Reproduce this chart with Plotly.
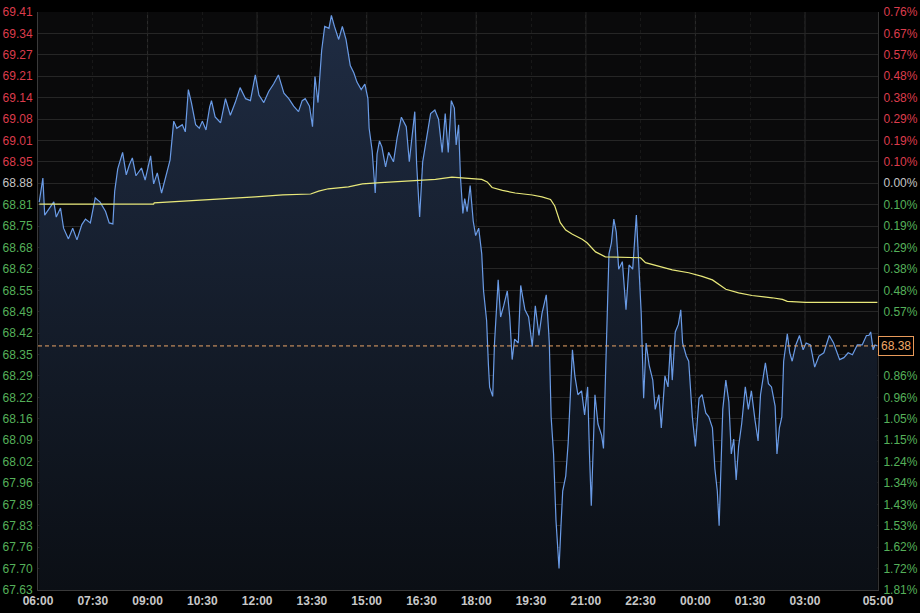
import pandas as pd
import plotly.graph_objects as go

# ---------------- data ----------------
session_start = "2024-06-03 06:00"
session_end = "2024-06-04 05:00"
prev_close = 68.88
grid_step = 0.0658

# minutes after 06:00 and price
price_minutes = [2, 8, 11, 17, 26, 30, 37, 42, 50, 57, 64, 72, 78, 86, 94, 102, 111, 117, 123, 126,
                 131, 139, 145, 150, 155, 161, 170, 176, 185, 190, 196, 203, 210, 217, 223, 228, 237, 242, 247, 252,
                 259, 265, 270, 276, 282, 285, 291, 300, 308, 316, 324, 332, 341, 349, 357, 363, 371, 379, 387, 395,
                 404, 412, 420, 428, 434, 439, 446, 451, 455, 460, 466, 471, 478, 482, 487, 494, 500, 506, 513, 519,
                 524, 531, 537, 542, 544, 549, 554, 557, 561, 565, 571, 576, 584, 590, 597, 605, 610, 615, 619, 622,
                 627, 632, 638, 645, 652, 658, 664, 669, 674, 679, 684, 687, 691, 694, 698, 701, 705, 710, 715, 719,
                 724, 729, 732, 737, 740, 742, 747, 750, 756, 760, 765, 771, 775, 779, 783, 789, 793, 800, 806, 812,
                 817, 823, 828, 835, 839, 840, 843, 847, 851, 856, 859, 862, 867, 871, 878, 882, 887, 893, 898, 903,
                 906, 909, 915, 920, 926, 929, 933, 938, 942, 946, 950, 954, 960, 966, 971, 977, 983, 987, 991, 995,
                 999, 1004, 1010, 1014, 1020, 1024, 1030, 1035, 1039, 1042, 1047, 1052, 1056, 1059, 1065, 1069, 1075, 1080, 1086, 1091,
                 1097, 1102, 1108, 1112, 1116, 1119, 1121, 1125, 1130, 1135, 1139, 1143, 1147, 1151, 1156, 1162, 1167, 1172, 1178, 1183,
                 1187, 1191, 1195, 1200, 1205, 1211, 1214, 1218, 1222, 1225, 1228, 1231, 1235, 1239, 1245, 1251, 1257, 1262, 1269, 1276,
                 1283, 1291, 1300, 1307, 1317, 1324, 1331, 1338, 1346, 1354, 1361, 1365, 1368, 1372, 1375, 1379]
price_values = [68.822, 68.896, 68.782, 68.798, 68.823, 68.776, 68.804, 68.742, 68.709, 68.742, 68.706, 68.753, 68.770, 68.758, 68.835, 68.822, 68.793, 68.758, 68.755, 68.856,
                68.924, 68.975, 68.906, 68.936, 68.958, 68.903, 68.927, 68.890, 68.964, 68.878, 68.912, 68.850, 68.901, 68.952, 69.071, 69.049, 69.060, 69.038, 69.168, 69.128,
                69.060, 69.049, 69.071, 69.044, 69.114, 69.134, 69.084, 69.066, 69.140, 69.089, 69.128, 69.174, 69.140, 69.134, 69.213, 69.151, 69.128, 69.162, 69.185, 69.213,
                69.157, 69.140, 69.117, 69.100, 69.134, 69.140, 69.117, 69.054, 69.208, 69.128, 69.288, 69.362, 69.356, 69.396, 69.362, 69.322, 69.362, 69.322, 69.242, 69.219,
                69.191, 69.168, 69.185, 69.140, 69.049, 68.980, 68.850, 68.970, 69.010, 68.992, 68.930, 68.975, 68.946, 69.020, 69.083, 69.054, 68.946, 69.044, 69.100, 68.941,
                68.776, 68.946, 69.020, 69.094, 69.105, 69.077, 68.975, 69.094, 68.975, 69.134, 69.111, 68.998, 69.060, 68.901, 68.787, 68.833, 68.793, 68.873, 68.764, 68.719,
                68.742, 68.663, 68.549, 68.458, 68.321, 68.253, 68.225, 68.389, 68.583, 68.469, 68.503, 68.549, 68.469, 68.338, 68.401, 68.389, 68.566, 68.491, 68.469, 68.378,
                68.503, 68.412, 68.480, 68.537, 68.423, 68.389, 68.162, 68.048, 67.843, 67.696, 67.820, 67.934, 67.980, 68.082, 68.368, 68.288, 68.230, 68.242, 68.168, 68.254,
                68.048, 67.889, 68.230, 68.140, 68.105, 68.065, 68.333, 68.663, 68.697, 68.770, 68.730, 68.616, 68.639, 68.491, 68.629, 68.616, 68.782, 68.651, 68.480, 68.219,
                68.389, 68.321, 68.275, 68.185, 68.230, 68.128, 68.288, 68.254, 68.383, 68.275, 68.423, 68.446, 68.491, 68.389, 68.349, 68.333, 68.162, 68.071, 68.219, 68.230,
                68.174, 68.162, 68.128, 68.003, 67.934, 67.827, 67.946, 68.185, 68.275, 68.208, 68.048, 68.094, 67.968, 68.071, 68.140, 68.254, 68.185, 68.242, 68.151, 68.088,
                68.230, 68.288, 68.328, 68.264, 68.254, 68.195, 68.048, 68.128, 68.162, 68.333, 68.378, 68.417, 68.359, 68.333, 68.383, 68.412, 68.368, 68.389, 68.383, 68.315,
                68.349, 68.359, 68.412, 68.389, 68.338, 68.344, 68.359, 68.353, 68.383, 68.383, 68.412, 68.412, 68.423, 68.368, 68.383, 68.380]

avg_minutes = [2, 190, 191, 230, 245, 261, 283, 308, 357, 402, 448, 461, 477, 510, 533, 563, 609, 653, 680, 713,
               729, 738, 746, 763, 784, 812, 828, 842, 849, 858, 867, 878, 894, 902, 916, 932, 970, 990, 998, 1020,
               1042, 1069, 1091, 1108, 1121, 1130, 1151, 1173, 1206, 1223, 1231, 1261, 1379]
avg_values = [68.816, 68.816, 68.820, 68.824, 68.826, 68.829, 68.829, 68.833, 68.838, 68.844, 68.847, 68.856, 68.863, 68.869, 68.878, 68.882, 68.887, 68.892, 68.899, 68.895,
              68.892, 68.884, 68.867, 68.858, 68.850, 68.844, 68.838, 68.830, 68.810, 68.759, 68.736, 68.723, 68.708, 68.697, 68.669, 68.654, 68.651, 68.651, 68.636, 68.626,
              68.614, 68.605, 68.594, 68.583, 68.565, 68.554, 68.543, 68.535, 68.528, 68.523, 68.517, 68.514, 68.514]

left_labels = ["69.41", "69.34", "69.27", "69.21", "69.14", "69.08", "69.01", "68.95", "68.88",
               "68.81", "68.75", "68.68", "68.62", "68.55", "68.49", "68.42", "68.35", "68.29", "68.22",
               "68.16", "68.09", "68.02", "67.96", "67.89", "67.83", "67.76", "67.70", "67.63"]
right_labels = ["0.76%", "0.67%", "0.57%", "0.48%", "0.38%", "0.29%", "0.19%", "0.10%", "0.00%",
                "0.10%", "0.19%", "0.29%", "0.38%", "0.48%", "0.57%", "0.67%", "0.76%", "0.86%", "0.96%",
                "1.05%", "1.15%", "1.24%", "1.34%", "1.43%", "1.53%", "1.62%", "1.72%", "1.81%"]
x_tick_labels = ["06:00", "07:30", "09:00", "10:30", "12:00", "13:30", "15:00", "16:30", "18:00",
                 "19:30", "21:00", "22:30", "00:00", "01:30", "03:00", "05:00"]

# ---------------- build ----------------
t0 = pd.Timestamp(session_start)
t_end = pd.Timestamp(session_end)
px = [t0 + pd.Timedelta(minutes=m) for m in price_minutes]
ax = [t0 + pd.Timedelta(minutes=m) for m in avg_minutes]

n_up = 8
n_dn = len(left_labels) - 1 - n_up
tickvals = [prev_close + (n_up - i) * grid_step for i in range(len(left_labels))]
y_lo = prev_close - n_dn * grid_step
y_hi = prev_close + n_up * grid_step
last = price_values[-1]

RED = "#dc3c4c"
GREEN = "#55b05a"
GRAY = "#c4c4c4"


def colored(labels, hide_near=None):
    out = []
    for i, s in enumerate(labels):
        if hide_near is not None and abs(tickvals[i] - hide_near) < grid_step * 0.6:
            out.append("")  # covered by the last-price box
            continue
        c = RED if i < n_up else (GRAY if i == n_up else GREEN)
        out.append(f'<span style="color:{c}">{s}</span>')
    return out


xtickvals = []
for i, lab in enumerate(x_tick_labels):
    if i == len(x_tick_labels) - 1:
        xtickvals.append(t_end)
    else:
        xtickvals.append(t0 + pd.Timedelta(minutes=90 * i))
major_grid = [t0 + pd.Timedelta(hours=3 * k) for k in range(1, 8)]

fig = go.Figure()
fig.add_trace(go.Scatter(
    x=px, y=price_values, mode="lines",
    line=dict(color="#6a9be6", width=1.2),
    fill="tozeroy",
    fillgradient=dict(type="vertical", start=y_lo, stop=y_hi,
                      colorscale=[[0, "#0b0f15"], [1, "#1f2c43"]]),
    hoverinfo="skip", showlegend=False))
fig.add_trace(go.Scatter(
    x=ax, y=avg_values, mode="lines",
    line=dict(color="#e8e87a", width=1.2),
    hoverinfo="skip", showlegend=False))
fig.add_trace(go.Scatter(x=[px[0]], y=[price_values[0]], yaxis="y2", mode="markers",
                         marker=dict(opacity=0), hoverinfo="skip", showlegend=False))

shapes = []
for g in major_grid:
    shapes.append(dict(type="line", xref="x", yref="paper", x0=g, x1=g, y0=0, y1=1,
                       line=dict(color="#2e2e2e", width=1), layer="below"))
shapes.append(dict(type="line", xref="paper", yref="y", x0=0, x1=1, y0=last, y1=last,
                   line=dict(color="#e8a466", width=1, dash="4px,3px")))

fig.update_layout(
    width=920, height=613,
    margin=dict(l=38, r=42, t=12, b=23, autoexpand=False),
    paper_bgcolor="#000000",
    plot_bgcolor="#0a0a0b",
    font=dict(family="Liberation Sans, Arial, sans-serif", size=12, color=GRAY),
    shapes=shapes,
    xaxis=dict(
        type="date", range=[t0, t_end], automargin=False,
        tickvals=xtickvals, ticktext=[f"<b>{s}</b>" for s in x_tick_labels],
        tickfont=dict(size=12, color="#c8c8c8"),
        showgrid=True, gridcolor="#181818", griddash="dot", gridwidth=1,
        showline=True, linecolor="#3a3a3a", linewidth=1,
        ticks="", zeroline=False, fixedrange=True,
    ),
    yaxis=dict(
        range=[y_lo, y_hi], tickvals=tickvals, ticktext=colored(left_labels),
        tickfont=dict(size=12), showgrid=True, gridcolor="#262626", gridwidth=1,
        showline=True, linecolor="#3a3a3a", linewidth=1, ticks="", automargin=False,
        zeroline=False, ticklabelstandoff=2, fixedrange=True,
    ),
    yaxis2=dict(
        range=[y_lo, y_hi], tickvals=tickvals, ticktext=colored(right_labels, hide_near=last),
        overlaying="y", side="right", tickfont=dict(size=12), showgrid=False,
        showline=True, linecolor="#333333", linewidth=1, ticks="", automargin=False,
        zeroline=False, ticklabelstandoff=2, fixedrange=True,
    ),
    annotations=[dict(
        xref="paper", yref="y", x=1, y=last, xanchor="left", yanchor="middle",
        xshift=0, text=f"{last:.2f}", showarrow=False,
        font=dict(size=12, color="#f0a868"), bgcolor="#000000",
        bordercolor="#e89a5a", borderwidth=1, borderpad=2,
    )],
)

fig.write_html("out.html", config={"displayModeBar": False},
               post_script="document.body.style.margin='0';document.body.style.background='#000';")
